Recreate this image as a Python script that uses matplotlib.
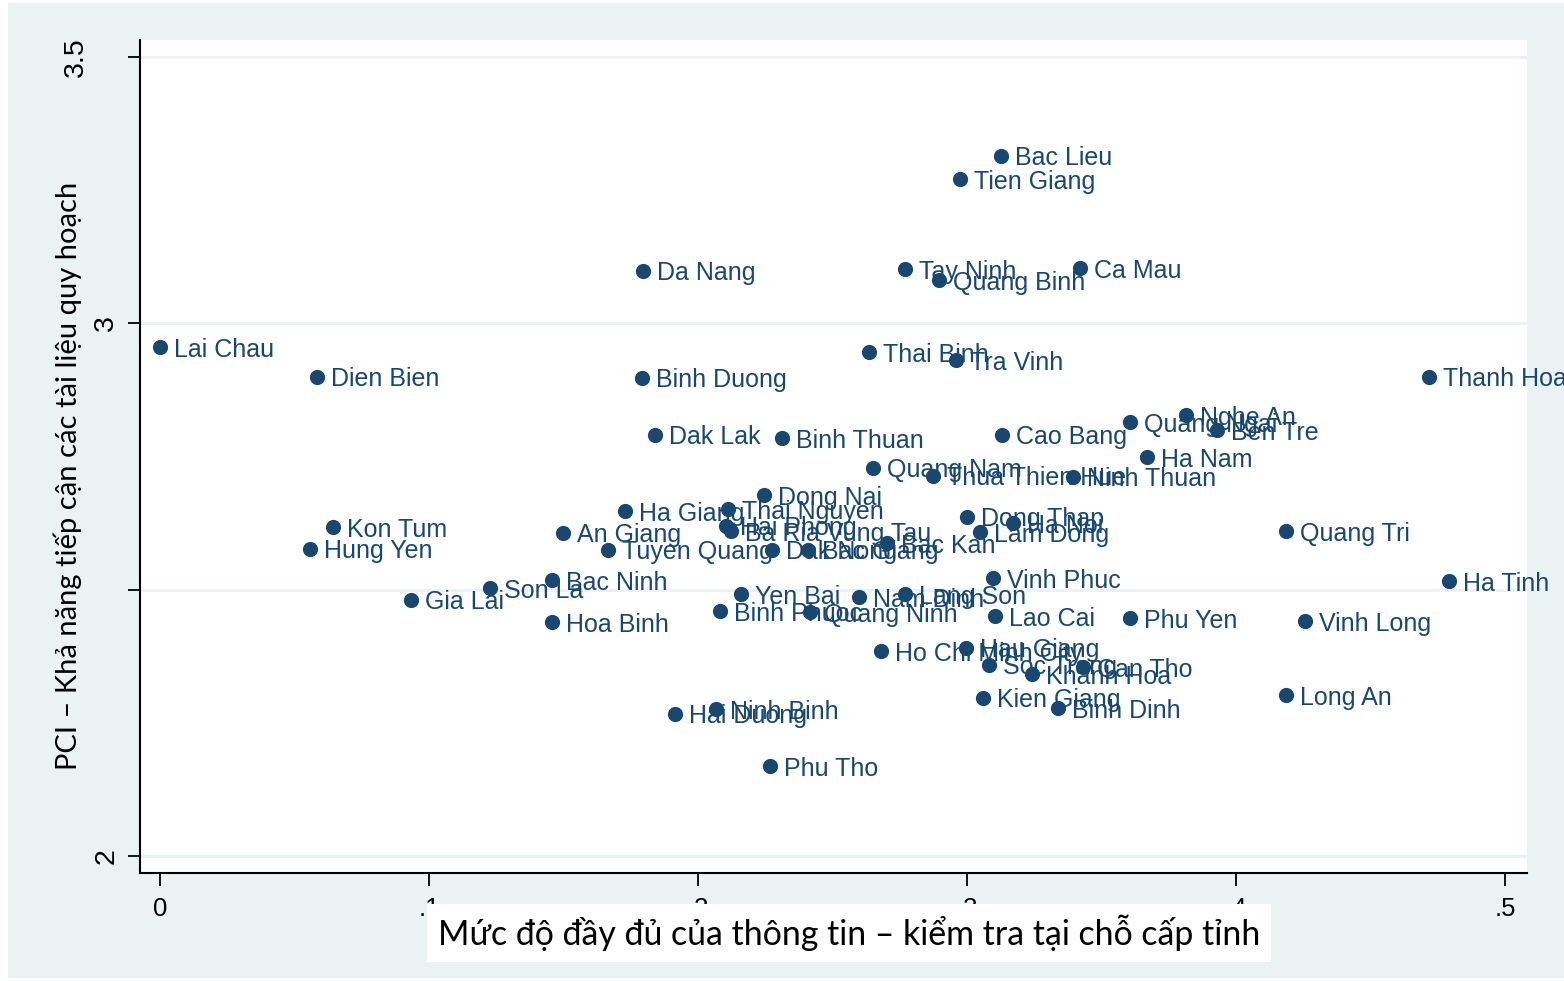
import matplotlib
matplotlib.use("Agg")
import matplotlib.pyplot as plt
import matplotlib.transforms as mtransforms
from matplotlib.patches import Rectangle

# province names and the two PCI indicators
names = ["Lai Chau", "Dien Bien", "Kon Tum", "Hung Yen", "Gia Lai", "Son La",
         "Bac Ninh", "Hoa Binh", "An Giang", "Tuyen Quang", "Ha Giang", "Da Nang",
         "Binh Duong", "Dak Lak", "Hai Duong", "Ninh Binh", "Binh Phuoc",
         "Thai Nguyen", "Hai Phong", "Ba Ria Vung Tau", "Yen Bai", "Dong Nai",
         "Phu Tho", "Dak Nong", "Binh Thuan", "Bac Giang", "Quang Ninh", "Nam Dinh",
         "Thai Binh", "Quang Nam", "Ho Chi Minh City", "Bac Kan", "Lang Son",
         "Tay Ninh", "Thua Thien Hue", "Quang Binh", "Tra Vinh", "Tien Giang",
         "Hau Giang", "Dong Thap", "Kien Giang", "Lam Dong", "Soc Trang",
         "Vinh Phuc", "Lao Cai", "Bac Lieu", "Cao Bang", "Ha Noi", "Khanh Hoa",
         "Binh Dinh", "Ninh Thuan", "Can Tho", "Ca Mau", "Quang Ngai", "Ha Nam",
         "Phu Yen", "Nghe An", "Ben Tre", "Quang Tri", "Long An", "Vinh Long",
         "Thanh Hoa", "Ha Tinh"]
info = [0.000, 0.0584, 0.0643, 0.0558, 0.0933, 0.1227, 0.1457, 0.1457, 0.1498,
        0.1665, 0.1729, 0.1796, 0.1792, 0.1840, 0.1914, 0.2067, 0.2082, 0.2112,
        0.2104, 0.2123, 0.2160, 0.2245, 0.2268, 0.2275, 0.2312, 0.2409, 0.2416,
        0.2599, 0.2636, 0.2650, 0.2680, 0.2703, 0.2770, 0.2770, 0.2874, 0.2896,
        0.2959, 0.2974, 0.2996, 0.3000, 0.3060, 0.3048, 0.3082, 0.3097, 0.3104,
        0.3126, 0.3130, 0.3171, 0.3242, 0.3338, 0.3394, 0.3431, 0.3420, 0.3606,
        0.3669, 0.3606, 0.3814, 0.3929, 0.4186, 0.4186, 0.4257, 0.4717, 0.4792]
access = [2.956, 2.900, 2.618, 2.577, 2.481, 2.503, 2.518, 2.439, 2.607, 2.575,
          2.648, 3.099, 2.898, 2.791, 2.267, 2.276, 2.460, 2.651, 2.620, 2.610,
          2.492, 2.678, 2.169, 2.575, 2.785, 2.575, 2.458, 2.486, 2.946, 2.729,
          2.385, 2.588, 2.492, 3.102, 2.714, 3.081, 2.931, 3.271, 2.391, 2.637,
          2.297, 2.608, 2.359, 2.522, 2.450, 3.315, 2.791, 2.625, 2.342, 2.278,
          2.712, 2.355, 3.104, 2.815, 2.749, 2.447, 2.828, 2.800, 2.610, 2.302,
          2.441, 2.900, 2.516]

navy = "#1A476F"
bg = "#EAF2F3"

fig = plt.figure(figsize=(15.64, 9.81), dpi=100, facecolor="white")
fig.patches.append(Rectangle((8 / 1564, 3 / 981), 1 - 8 / 1564, 1 - 6 / 981,
                             transform=fig.transFigure, facecolor=bg,
                             edgecolor="none", zorder=-10))

ax = fig.add_axes([140 / 1564, 1 - 873 / 981, (1527 - 140) / 1564, (873 - 40) / 981])
ax.set_facecolor("white")

ax.scatter(info, access, s=120, color=navy, zorder=3, linewidths=0)
for n, x, y in zip(names, info, access):
    ax.annotate(n, (x, y), xytext=(10, -7), textcoords="offset points",
                va="baseline", ha="left", color=navy, fontsize=18,
                family="Liberation Sans", clip_on=False, zorder=4)

ax.set_xlim(-0.0074, 0.5082)
ax.set_ylim(1.968, 3.532)
ax.set_xticks([0, 0.1, 0.2, 0.3, 0.4, 0.5])
ax.set_xticklabels(["0", ".1", ".2", ".3", ".4", ".5"])
ax.set_yticks([2, 2.5, 3, 3.5])
ax.set_yticklabels(["2", "", "3", "3.5"], rotation=90, va="center")
ax.tick_params(axis="both", length=9, width=1.3, color="black", pad=8)
ax.tick_params(axis="x", labelsize=18.5)
ax.tick_params(axis="y", labelsize=20.5, pad=6)
for lab in ax.get_xticklabels() + ax.get_yticklabels():
    lab.set_family("Liberation Sans")
# the top label sits further out in the original
top = ax.get_yticklabels()[-1]
top.set_transform(top.get_transform() +
                  mtransforms.ScaledTranslation(-30 / 100, 0, fig.dpi_scale_trans))

ax.grid(axis="y", color=bg, linewidth=2.2)
ax.set_axisbelow(True)
for side in ["top", "right"]:
    ax.spines[side].set_visible(False)
for side in ["left", "bottom"]:
    ax.spines[side].set_linewidth(1.5)

fig.text(68 / 1564, 1 - 476 / 981, "PCI – Khả năng tiếp cận các tài liệu quy hoạch",
         rotation=90, ha="center", va="center", fontsize=21, family="Lato",
         color="black")
fig.text(849 / 1564, 1 - 933 / 981,
         "Mức độ đầy đủ của thông tin – kiểm tra tại chỗ cấp tỉnh",
         ha="center", va="center", fontsize=24.4, family="Lato", color="black",
         bbox=dict(facecolor="white", edgecolor="none", pad=8), zorder=10)

fig.savefig("out.png", dpi=100)
